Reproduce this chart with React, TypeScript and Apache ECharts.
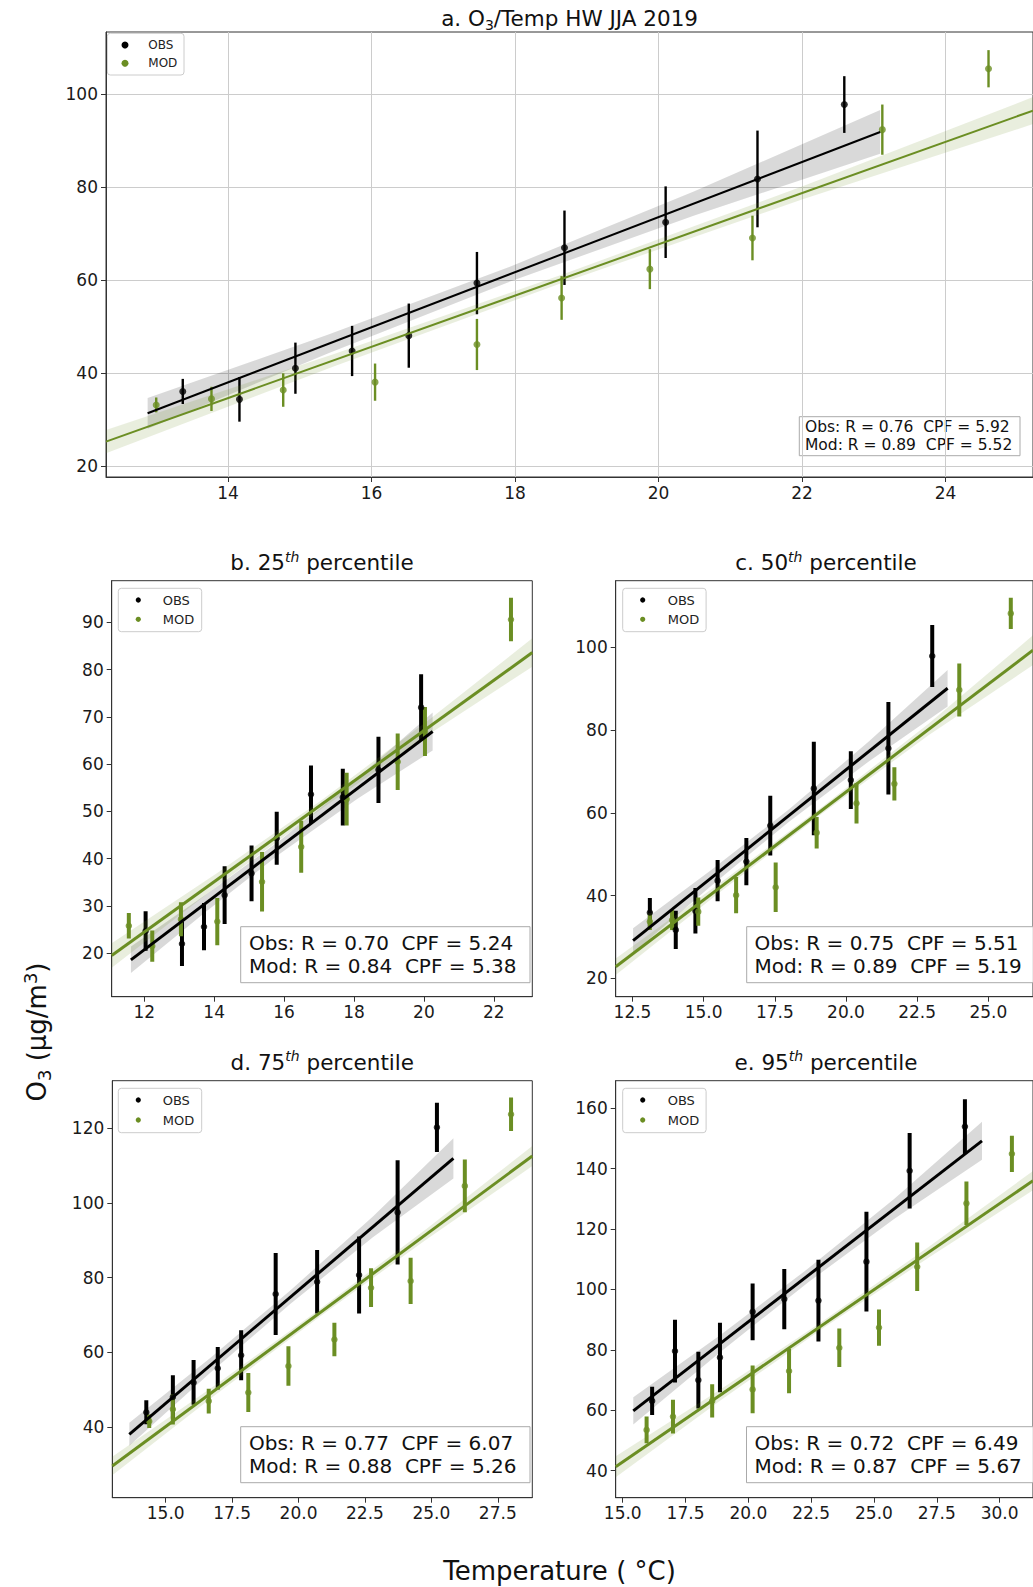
import React, { useEffect, useRef } from "react";
import * as echarts from "echarts";

const FONT = "DejaVu Sans";
const OBS_COLOR = "#000000";
const MOD_COLOR = "#6b8e23";
const OBS_BAND = "rgba(0,0,0,0.15)";
const MOD_BAND = "rgba(107,142,35,0.15)";
const SP2 = "\u00a0 "; // two visible spaces

// ---------------- Panel a: O3/Temp HW JJA 2019 ----------------
const aXTicks = [14, 16, 18, 20, 22, 24];
const aYTicks = [20, 40, 60, 80, 100];
const aObsT = [13.37, 14.16, 14.94, 15.73, 16.52, 17.47, 18.69, 20.1, 21.38, 22.59];
const aObsY = [36.0, 34.3, 41.0, 44.7, 48.0, 59.3, 66.9, 72.4, 81.7, 97.7];
const aObsErr = [2.7, 4.8, 5.5, 5.4, 6.9, 6.7, 8.0, 7.7, 10.4, 6.1];
const aModT = [13.0, 13.77, 14.77, 16.05, 17.47, 18.65, 19.88, 21.31, 23.12, 24.6];
const aModY = [33.1, 34.4, 36.3, 38.0, 46.1, 56.1, 62.3, 69.0, 92.3, 105.4];
const aModErr = [1.6, 2.6, 3.6, 4.0, 5.5, 4.7, 4.3, 4.8, 5.4, 4.0];
const aObsLine = [[12.88, 31.3], [23.09, 91.8]];
const aModLine = [[12.3, 25.2], [25.22, 96.4]];
const aObsBandT = [12.88, 15.4, 17.9, 20.5, 23.09];
const aObsBandHW = [3.3, 2.0, 1.6, 2.6, 4.7];
const aModBandT = [12.3, 15.5, 18.7, 22.0, 25.22];
const aModBandHW = [2.5, 1.3, 0.9, 1.4, 2.9];
const aStats = ["Obs: R = 0.76" + SP2 + "CPF = 5.92", "Mod: R = 0.89" + SP2 + "CPF = 5.52"];

// ---------------- Panel b: 25th percentile ----------------
const bXTicks = [12, 14, 16, 18, 20, 22];
const bYTicks = [20, 30, 40, 50, 60, 70, 80, 90];
const bObsT = [12.04, 13.08, 13.71, 14.3, 15.07, 15.79, 16.77, 17.68, 18.7, 19.92];
const bObsY = [24.7, 22.0, 25.6, 32.3, 36.9, 44.3, 53.6, 53.0, 58.8, 72.0];
const bObsErr = [4.2, 4.7, 5.0, 6.1, 5.9, 5.6, 6.1, 6.0, 7.0, 7.0];
const bModT = [11.56, 12.23, 13.05, 14.09, 15.37, 16.49, 17.79, 19.25, 20.03, 22.49];
const bModY = [25.8, 21.5, 27.2, 26.7, 35.1, 42.5, 52.6, 60.5, 66.9, 90.6];
const bModErr = [2.7, 3.3, 3.6, 5.0, 6.3, 5.5, 5.6, 6.0, 5.2, 4.6];
const bObsLine = [[11.62, 18.6], [20.25, 66.9]];
const bModLine = [[11.07, 19.5], [23.1, 83.6]];
const bObsBandT = [11.62, 13.8, 15.9, 18.1, 20.25];
const bObsBandHW = [2.8, 1.8, 1.4, 2.2, 4.0];
const bModBandT = [11.07, 14.1, 17.1, 20.1, 23.1];
const bModBandHW = [2.6, 1.4, 0.9, 1.5, 3.0];
const bStats = ["Obs: R = 0.70" + SP2 + "CPF = 5.24", "Mod: R = 0.84" + SP2 + "CPF = 5.38"];

// ---------------- Panel c: 50th percentile ----------------
const cXTicks = [12.5, 15, 17.5, 20, 22.5, 25];
const cYTicks = [20, 40, 60, 80, 100];
const cObsT = [13.11, 14.02, 14.71, 15.49, 16.5, 17.34, 18.87, 20.17, 21.49, 23.03];
const cObsY = [35.9, 31.7, 36.3, 43.6, 48.2, 56.9, 65.9, 67.9, 75.6, 97.9];
const cObsErr = [3.5, 4.6, 5.5, 5.0, 5.7, 7.2, 11.3, 7.0, 11.2, 7.5];
const cModT = [13.11, 13.89, 14.81, 16.14, 17.53, 18.97, 20.37, 21.7, 23.98, 25.79];
const cModY = [33.7, 34.1, 36.1, 40.1, 42.0, 55.2, 62.3, 67.0, 89.7, 108.2];
const cModErr = [2.0, 2.4, 3.4, 4.4, 6.0, 3.8, 4.9, 4.0, 6.4, 3.8];
const cObsLine = [[12.52, 29.1], [23.57, 90.1]];
const cModLine = [[11.91, 22.8], [26.57, 99.3]];
const cObsBandT = [12.52, 15.3, 18.0, 20.8, 23.57];
const cObsBandHW = [3.0, 1.9, 1.5, 2.4, 4.4];
const cModBandT = [11.91, 15.6, 19.2, 22.9, 26.57];
const cModBandHW = [2.0, 1.1, 0.8, 1.4, 3.6];
const cStats = ["Obs: R = 0.75" + SP2 + "CPF = 5.51", "Mod: R = 0.89" + SP2 + "CPF = 5.19"];

// ---------------- Panel d: 75th percentile ----------------
const dXTicks = [15, 17.5, 20, 22.5, 25, 27.5];
const dYTicks = [40, 60, 80, 100, 120];
const dObsT = [14.27, 15.27, 16.05, 16.96, 17.84, 19.14, 20.7, 22.28, 23.73, 25.21];
const dObsY = [43.9, 48.0, 51.9, 55.7, 59.2, 75.6, 78.9, 80.7, 97.5, 120.3];
const dObsErr = [3.2, 5.8, 6.0, 5.7, 6.7, 11.0, 8.5, 10.3, 14.0, 6.6];
const dModT = [14.38, 15.27, 16.62, 18.11, 19.62, 21.35, 22.73, 24.22, 26.26, 28.0];
const dModY = [41.5, 44.7, 46.9, 49.2, 56.3, 63.4, 77.3, 79.1, 104.6, 123.8];
const dModErr = [1.8, 4.1, 3.3, 5.2, 5.3, 4.5, 5.2, 6.2, 7.1, 4.5];
const dObsLine = [[13.63, 38.0], [25.83, 112.0]];
const dModLine = [[12.99, 29.5], [28.8, 112.6]];
const dObsBandT = [13.63, 16.7, 19.7, 22.8, 25.83];
const dObsBandHW = [3.1, 2.0, 1.8, 2.8, 5.4];
const dModBandT = [12.99, 16.9, 20.9, 24.8, 28.8];
const dModBandHW = [2.5, 1.3, 1.0, 1.4, 2.7];
const dStats = ["Obs: R = 0.77" + SP2 + "CPF = 6.07", "Mod: R = 0.88" + SP2 + "CPF = 5.26"];

// ---------------- Panel e: 95th percentile ----------------
const eXTicks = [15, 17.5, 20, 22.5, 25, 27.5, 30];
const eYTicks = [40, 60, 80, 100, 120, 140, 160];
const eObsT = [16.17, 17.08, 18.01, 18.87, 20.17, 21.43, 22.79, 24.7, 26.42, 28.62];
const eObsY = [63.1, 79.6, 70.0, 77.5, 92.6, 96.8, 96.3, 109.2, 139.3, 153.9];
const eObsErr = [4.7, 10.4, 9.4, 11.5, 9.4, 10.0, 13.5, 16.5, 12.5, 9.1];
const eModT = [15.95, 17.0, 18.56, 20.17, 21.62, 23.62, 25.2, 26.72, 28.68, 30.49];
const eModY = [53.5, 57.9, 63.1, 66.9, 73.0, 80.7, 87.4, 107.5, 128.5, 144.9];
const eModErr = [4.4, 5.6, 5.5, 7.9, 7.4, 6.4, 6.0, 8.0, 7.2, 6.0];
const eObsLine = [[15.42, 59.8], [29.3, 149.2]];
const eModLine = [[14.72, 41.3], [31.33, 136.0]];
const eObsBandT = [15.42, 18.9, 22.4, 25.8, 29.3];
const eObsBandHW = [4.5, 2.8, 2.3, 3.3, 6.3];
const eModBandT = [14.72, 18.9, 23.0, 27.2, 31.33];
const eModBandHW = [3.5, 1.8, 1.2, 1.8, 3.2];
const eStats = ["Obs: R = 0.72" + SP2 + "CPF = 6.49", "Mod: R = 0.87" + SP2 + "CPF = 5.67"];

const legendNames = ["OBS", "MOD"];

function lineAt(line: number[][], t: number): number {
  const [x0, y0] = line[0];
  const [x1, y1] = line[1];
  return y0 + ((y1 - y0) * (t - x0)) / (x1 - x0);
}

const panels = [
  {
    grid: { left: 106, top: 32, width: 928, height: 445 },
    xRange: [12.3, 25.22], yRange: [17.6, 113.3],
    xTicks: aXTicks, yTicks: aYTicks, decimals: 0, gridLines: true,
    obs: { T: aObsT, Y: aObsY, E: aObsErr, line: aObsLine, bandT: aObsBandT, bandHW: aObsBandHW },
    mod: { T: aModT, Y: aModY, E: aModErr, line: aModLine, bandT: aModBandT, bandHW: aModBandHW },
    marker: 7, bar: 2.4, lineW: 2,
    title: "a. O{sub|3}/Temp HW JJA 2019", titleAt: [569.6, 18.5],
    stats: aStats, statsBox: [799.3, 416.7, 220.7, 39], statsText: [805, 436.2], statsFont: 15.5, statsLH: 18.3,
    legend: { box: [107.3, 33.3, 76.7, 41.7], iconX: 125, rows: [45, 63.3], r: 3.5, textX: 148.3, fontSize: 12 },
  },
  {
    grid: { left: 111.7, top: 580.7, width: 420.6, height: 416 },
    xRange: [11.07, 23.1], yRange: [10.8, 98.8],
    xTicks: bXTicks, yTicks: bYTicks, decimals: 0, gridLines: false,
    obs: { T: bObsT, Y: bObsY, E: bObsErr, line: bObsLine, bandT: bObsBandT, bandHW: bObsBandHW },
    mod: { T: bModT, Y: bModY, E: bModErr, line: bModLine, bandT: bModBandT, bandHW: bModBandHW },
    marker: 6.5, bar: 4, lineW: 3,
    title: "b. 25{sup|th} percentile", titleAt: [322, 562.6],
    stats: bStats, statsBox: [240.7, 926.7, 289.3, 56], statsText: [249, 954.7], statsFont: 20, statsLH: 23,
    legend: { box: [118.3, 588.3, 83.4, 43.4], iconX: 138.3, rows: [600, 619.3], r: 2.6, textX: 162.7, fontSize: 13 },
  },
  {
    grid: { left: 615.7, top: 580.7, width: 420.6, height: 416 },
    xRange: [11.91, 26.57], yRange: [15.55, 116.1],
    xTicks: cXTicks, yTicks: cYTicks, decimals: 1, gridLines: false,
    obs: { T: cObsT, Y: cObsY, E: cObsErr, line: cObsLine, bandT: cObsBandT, bandHW: cObsBandHW },
    mod: { T: cModT, Y: cModY, E: cModErr, line: cModLine, bandT: cModBandT, bandHW: cModBandHW },
    marker: 6.5, bar: 4, lineW: 3,
    title: "c. 50{sup|th} percentile", titleAt: [826, 562.6],
    stats: cStats, statsBox: [746.7, 926.7, 289.3, 56], statsText: [754.4, 954.7], statsFont: 20, statsLH: 23,
    legend: { box: [622.7, 588.3, 83.4, 43.4], iconX: 642.7, rows: [600, 619.3], r: 2.6, textX: 667.7, fontSize: 13 },
  },
  {
    grid: { left: 112.3, top: 1080.7, width: 420, height: 417 },
    xRange: [12.99, 28.8], yRange: [21.0, 132.8],
    xTicks: dXTicks, yTicks: dYTicks, decimals: 1, gridLines: false,
    obs: { T: dObsT, Y: dObsY, E: dObsErr, line: dObsLine, bandT: dObsBandT, bandHW: dObsBandHW },
    mod: { T: dModT, Y: dModY, E: dModErr, line: dModLine, bandT: dModBandT, bandHW: dModBandHW },
    marker: 6.5, bar: 4, lineW: 3,
    title: "d. 75{sup|th} percentile", titleAt: [322.3, 1062.3],
    stats: dStats, statsBox: [240.7, 1426.7, 289.3, 56], statsText: [249, 1454.7], statsFont: 20, statsLH: 23,
    legend: { box: [118.3, 1088.3, 83.4, 44.4], iconX: 138.3, rows: [1100, 1120], r: 2.6, textX: 162.7, fontSize: 13 },
  },
  {
    grid: { left: 615.7, top: 1080.7, width: 420.6, height: 417 },
    xRange: [14.72, 31.33], yRange: [31.06, 169.1],
    xTicks: eXTicks, yTicks: eYTicks, decimals: 1, gridLines: false,
    obs: { T: eObsT, Y: eObsY, E: eObsErr, line: eObsLine, bandT: eObsBandT, bandHW: eObsBandHW },
    mod: { T: eModT, Y: eModY, E: eModErr, line: eModLine, bandT: eModBandT, bandHW: eModBandHW },
    marker: 6.5, bar: 4, lineW: 3,
    title: "e. 95{sup|th} percentile", titleAt: [826, 1062.3],
    stats: eStats, statsBox: [746.5, 1426.7, 289.3, 56], statsText: [754.4, 1454.7], statsFont: 20, statsLH: 23,
    legend: { box: [622.7, 1088.3, 83.4, 44.4], iconX: 642.7, rows: [1100, 1120], r: 2.6, textX: 667.7, fontSize: 13 },
  },
];

const RICH = {
  sub: { fontSize: 14, fontFamily: FONT, verticalAlign: "bottom", lineHeight: 10, fill: "#111", color: "#111" },
  sup: { fontSize: 14, fontFamily: FONT, fontStyle: "italic", verticalAlign: "top", lineHeight: 12, fill: "#111", color: "#111" },
};

export default function App() {
  const ref = useRef<HTMLDivElement>(null);

  useEffect(() => {
    const chart = echarts.init(ref.current!, null, { renderer: "svg" });
    const grid: any[] = [];
    const xAxis: any[] = [];
    const yAxis: any[] = [];
    const series: any[] = [];
    const graphic: any[] = [];

    panels.forEach((p, i) => {
      grid.push({ ...p.grid, show: true, borderColor: "#333", borderWidth: 1, backgroundColor: "transparent", containLabel: false });
      const fmt = (v: number) => (p.decimals ? Number(v).toFixed(p.decimals) : String(v));
      const labelStyle = { fontSize: 17, color: "#1a1a1a", fontFamily: FONT };
      xAxis.push({
        type: "value", gridIndex: i, min: p.xRange[0], max: p.xRange[1],
        axisLine: { show: true, onZero: false, lineStyle: { color: "#333", width: 1 } },
        axisTick: { show: true, inside: false, length: 5, lineStyle: { color: "#333" }, customValues: p.xTicks },
        axisLabel: { show: true, customValues: p.xTicks, formatter: fmt, margin: 7, ...labelStyle },
        splitLine: { show: p.gridLines, lineStyle: { color: "#cccccc", width: 1 } },
      });
      yAxis.push({
        type: "value", gridIndex: i, min: p.yRange[0], max: p.yRange[1],
        axisLine: { show: true, onZero: false, lineStyle: { color: "#333", width: 1 } },
        axisTick: { show: true, inside: false, length: 5, lineStyle: { color: "#333" }, customValues: p.yTicks },
        axisLabel: { show: true, customValues: p.yTicks, formatter: (v: number) => String(v), margin: 8, ...labelStyle },
        splitLine: { show: p.gridLines, lineStyle: { color: "#cccccc", width: 1 } },
      });

      const addGroup = (g: any, name: string, color: string, bandFill: string) => {
        // error bars
        series.push({
          type: "custom", name: name + " CI", xAxisIndex: i, yAxisIndex: i, silent: true, clip: true,
          data: g.T.map((t: number, k: number) => [t, g.Y[k] - g.E[k], g.Y[k] + g.E[k]]),
          encode: { x: 0, y: [1, 2] },
          renderItem: (params: any, api: any) => {
            const a = api.coord([api.value(0), api.value(1)]);
            const b = api.coord([api.value(0), api.value(2)]);
            return { type: "line", shape: { x1: a[0], y1: a[1], x2: b[0], y2: b[1] }, style: { stroke: color, lineWidth: p.bar } };
          },
        });
        // binned means
        series.push({
          type: "scatter", name, xAxisIndex: i, yAxisIndex: i, symbol: "circle", symbolSize: p.marker,
          itemStyle: { color }, silent: true,
          data: g.T.map((t: number, k: number) => [t, g.Y[k]]),
        });
        // confidence band of the fit
        const rows = g.bandT.map((t: number, k: number) => [t, lineAt(g.line, t) - g.bandHW[k], lineAt(g.line, t) + g.bandHW[k]]);
        series.push({
          type: "custom", name: name + " band", xAxisIndex: i, yAxisIndex: i, silent: true, clip: true,
          data: rows, encode: { x: 0, y: [1, 2] },
          renderItem: (params: any, api: any) => {
            if (params.dataIndex !== 0) return null;
            const up = rows.map((r: number[]) => api.coord([r[0], r[2]]));
            const lo = rows.map((r: number[]) => api.coord([r[0], r[1]])).reverse();
            return { type: "polygon", shape: { points: up.concat(lo) }, style: { fill: bandFill, stroke: "none" } };
          },
        });
        // regression line
        series.push({
          type: "line", name: name + " fit", xAxisIndex: i, yAxisIndex: i, silent: true, clip: true,
          symbol: "none", showSymbol: false, data: g.line,
          lineStyle: { color, width: p.lineW },
        });
      };
      addGroup(p.obs, "OBS", OBS_COLOR, OBS_BAND);
      addGroup(p.mod, "MOD", MOD_COLOR, MOD_BAND);

      // legend box (OBS / MOD)
      const L = p.legend;
      graphic.push({
        type: "rect", silent: true,
        shape: { x: L.box[0], y: L.box[1], width: L.box[2], height: L.box[3], r: 3 },
        style: { fill: "rgba(255,255,255,0.8)", stroke: "#cccccc", lineWidth: 1 },
      });
      legendNames.forEach((nm, k) => {
        graphic.push({
          type: "circle", silent: true,
          shape: { cx: L.iconX, cy: L.rows[k], r: L.r },
          style: { fill: k === 0 ? OBS_COLOR : MOD_COLOR },
        });
        graphic.push({
          type: "text", x: L.textX, y: L.rows[k], silent: true,
          style: {
            text: nm, fontSize: L.fontSize, fontFamily: FONT, fill: "#222",
            align: "left", verticalAlign: "middle", textAlign: "left", textVerticalAlign: "middle",
          },
        });
      });

      // title
      graphic.push({
        type: "text", x: p.titleAt[0], y: p.titleAt[1], silent: true,
        style: {
          text: p.title, fontSize: 21.5, fontFamily: FONT, fill: "#111", lineHeight: 26,
          align: "center", verticalAlign: "middle", textAlign: "center", textVerticalAlign: "middle",
          rich: RICH,
        },
      });
      // stats box
      graphic.push({
        type: "rect", silent: true,
        shape: { x: p.statsBox[0], y: p.statsBox[1], width: p.statsBox[2], height: p.statsBox[3] },
        style: { fill: "rgba(255,255,255,0.8)", stroke: "#aaaaaa", lineWidth: 1 },
      });
      graphic.push({
        type: "text", x: p.statsText[0], y: p.statsText[1], silent: true,
        style: {
          text: p.stats.join("\n"), fontSize: p.statsFont, lineHeight: p.statsLH, fontFamily: FONT, fill: "#111",
          align: "left", verticalAlign: "middle", textAlign: "left", textVerticalAlign: "middle",
        },
      });
    });

    // shared axis titles
    graphic.push({
      type: "text", x: 37.4, y: 1032, rotation: Math.PI / 2, silent: true,
      style: {
        text: "O{sub|3} (μg/m{sup2|3})", fontSize: 26, fontFamily: FONT, fill: "#111", lineHeight: 32,
        align: "center", verticalAlign: "middle", textAlign: "center", textVerticalAlign: "middle",
        rich: {
          sub: { fontSize: 18, fontFamily: FONT, verticalAlign: "bottom", lineHeight: 14 },
          sup2: { fontSize: 18, fontFamily: FONT, verticalAlign: "top", lineHeight: 14 },
        },
      },
    });
    graphic.push({
      type: "text", x: 559.5, y: 1571, silent: true,
      style: {
        text: "Temperature ( °C)", fontSize: 26, fontFamily: FONT, fill: "#111",
        align: "center", verticalAlign: "middle", textAlign: "center", textVerticalAlign: "middle",
      },
    });

    chart.setOption({
      animation: false,
      backgroundColor: "#ffffff",
      textStyle: { fontFamily: FONT },
      grid, xAxis, yAxis, series, graphic,
    });
    return () => chart.dispose();
  }, []);

  return (
    <div
      ref={ref}
      style={{ position: "absolute", left: 0, top: 0, width: 1033, height: 1587, background: "#fff" }}
    />
  );
}
